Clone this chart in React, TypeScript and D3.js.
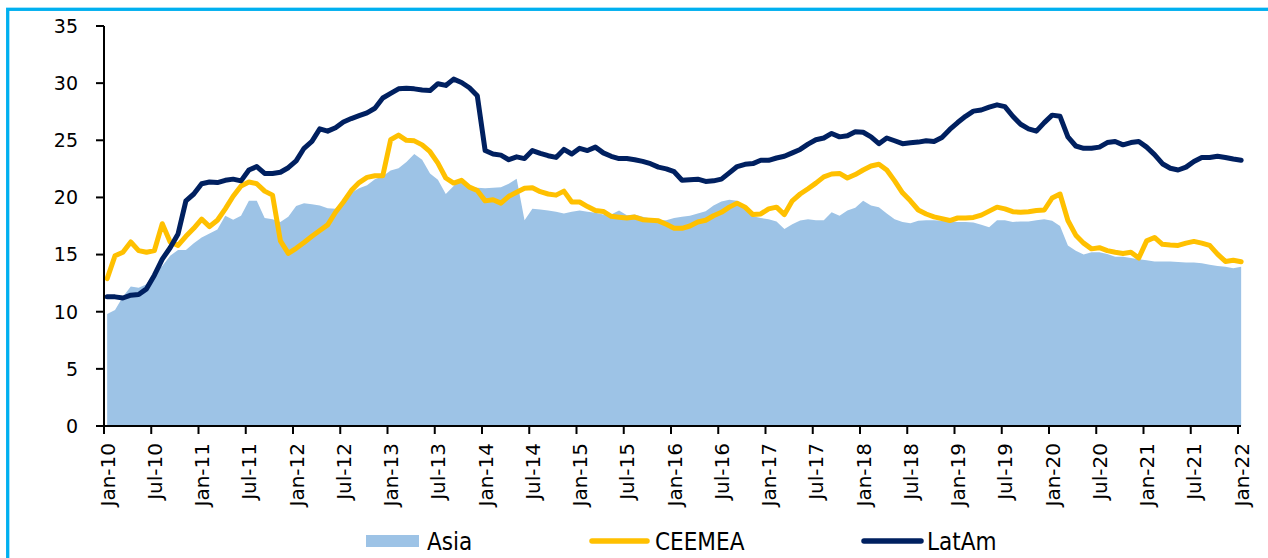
import React from 'react';
import * as d3 from 'd3';

const tickLabels = [
  'Jan-10', 'Jul-10', 'Jan-11', 'Jul-11', 'Jan-12', 'Jul-12', 'Jan-13', 'Jul-13', 'Jan-14',
  'Jul-14', 'Jan-15', 'Jul-15', 'Jan-16', 'Jul-16', 'Jan-17', 'Jul-17', 'Jan-18', 'Jul-18',
  'Jan-19', 'Jul-19', 'Jan-20', 'Jul-20', 'Jan-21', 'Jul-21', 'Jan-22',
];
const yTicks = [0, 5, 10, 15, 20, 25, 30, 35];

// monthly values, Jan-10 onwards
const asia = [
  9.8, 10.15, 11.3, 12.2, 12.1, 12.4, 13.5, 14.0, 14.9, 15.4,
  15.4, 16.0, 16.5, 16.85, 17.2, 18.4, 18.05, 18.4, 19.7, 19.7,
  18.2, 18.1, 17.85, 18.3, 19.25, 19.5, 19.4, 19.3, 19.05, 19.0,
  19.8, 20.4, 20.8, 21.06, 21.6, 21.85, 22.35, 22.55, 23.1, 23.8,
  23.3, 22.1, 21.55, 20.3, 21.0, 21.7, 21.0, 20.85, 20.8, 20.85,
  20.9, 21.2, 21.64, 18.0, 19.0, 18.95, 18.85, 18.75, 18.6, 18.75,
  18.85, 18.75, 18.65, 18.5, 18.5, 18.85, 18.45, 18.5, 18.3, 18.15,
  18.0, 18.0, 18.2, 18.3, 18.4, 18.6, 18.8, 19.3, 19.65, 19.8,
  19.7, 19.0, 18.35, 18.2, 18.1, 17.9, 17.24, 17.65, 17.98, 18.1,
  18.0, 18.0, 18.7, 18.4, 18.85, 19.1, 19.7, 19.3, 19.15, 18.6,
  18.1, 17.85, 17.75, 17.95, 18.0, 18.0, 17.95, 17.9, 17.85, 17.85,
  17.8, 17.6, 17.4, 18.0, 18.0, 17.85, 17.9, 17.9, 18.0, 18.1,
  17.95, 17.5, 15.8, 15.34, 15.0, 15.2, 15.2, 15.05, 14.8, 14.8,
  14.7, 14.6, 14.5, 14.4, 14.4, 14.4, 14.35, 14.3, 14.3, 14.25,
  14.1, 14.0, 13.93, 13.8, 13.93,
];

const ceemea = [
  12.9, 14.9, 15.2, 16.1, 15.35, 15.2, 15.35, 17.7, 16.1, 15.8,
  16.6, 17.3, 18.1, 17.45, 18.0, 19.0, 20.1, 21.0, 21.35, 21.2,
  20.55, 20.2, 16.2, 15.1, 15.55, 16.05, 16.6, 17.1, 17.6, 18.7,
  19.6, 20.6, 21.3, 21.75, 21.9, 21.9, 25.05, 25.45, 25.0, 24.95,
  24.6, 24.0, 23.0, 21.7, 21.26, 21.5, 20.9, 20.6, 19.7, 19.8,
  19.5, 20.1, 20.45, 20.8, 20.85, 20.5, 20.3, 20.2, 20.55, 19.6,
  19.6, 19.2, 18.85, 18.77, 18.35, 18.27, 18.2, 18.28, 18.05, 18.0,
  17.95, 17.65, 17.3, 17.3, 17.5, 17.85, 18.0, 18.4, 18.7, 19.15,
  19.5, 19.15, 18.5, 18.56, 19.0, 19.15, 18.5, 19.7, 20.3, 20.76,
  21.25, 21.8, 22.05, 22.1, 21.7, 22.0, 22.4, 22.75, 22.9, 22.4,
  21.45, 20.4, 19.7, 18.9, 18.55, 18.3, 18.15, 17.98, 18.2, 18.2,
  18.25, 18.45, 18.8, 19.15, 19.0, 18.75, 18.7, 18.75, 18.85, 18.9,
  19.95, 20.3, 17.98, 16.7, 16.0, 15.5, 15.6, 15.35, 15.2, 15.1,
  15.2, 14.7, 16.2, 16.5, 15.9, 15.84, 15.8, 16.0, 16.15, 16.0,
  15.8, 15.04, 14.4, 14.5, 14.37,
];

const latam = [
  11.3, 11.3, 11.2, 11.45, 11.5, 12.0, 13.2, 14.6, 15.6, 16.8,
  19.7, 20.3, 21.2, 21.35, 21.3, 21.5, 21.6, 21.45, 22.4, 22.7,
  22.1, 22.1, 22.2, 22.6, 23.2, 24.3, 24.9, 26.0, 25.8, 26.1,
  26.6, 26.9, 27.15, 27.4, 27.8, 28.7, 29.1, 29.5, 29.55, 29.5,
  29.4, 29.35, 29.95, 29.8, 30.35, 30.06, 29.6, 28.9, 24.1, 23.8,
  23.7, 23.3, 23.55, 23.4, 24.1, 23.85, 23.65, 23.5, 24.2, 23.8,
  24.3, 24.1, 24.4, 23.9, 23.6, 23.4, 23.4, 23.3, 23.15, 22.95,
  22.65, 22.5, 22.25, 21.5, 21.55, 21.6, 21.4, 21.45, 21.6, 22.15,
  22.7, 22.9, 22.96, 23.25, 23.25, 23.45, 23.6, 23.9, 24.2, 24.66,
  25.05, 25.2, 25.6, 25.3, 25.4, 25.75, 25.7, 25.3, 24.7, 25.2,
  24.96, 24.7, 24.78, 24.84, 24.96, 24.9, 25.25, 25.95, 26.55, 27.1,
  27.55, 27.65, 27.9, 28.1, 27.95, 27.1, 26.4, 26.0, 25.8, 26.55,
  27.2, 27.1, 25.3, 24.5, 24.3, 24.3, 24.4, 24.8, 24.9, 24.6,
  24.8, 24.9, 24.4, 23.75, 22.95, 22.55, 22.4, 22.65, 23.15, 23.5,
  23.5, 23.6, 23.5, 23.36, 23.25,
];

const ASIA = '#9dc3e6';
const CEEMEA = '#ffc000';
const LATAM = '#002060';
const BORDER = '#00b0f0';

const W = 1268;
const H = 558;
const left = 104;
const right = 1238;
const top = 26;
const bottom = 426;
const tickFont = '"DejaVu Sans", Verdana, sans-serif';
const legendFont = '"Liberation Sans Narrow", "DejaVu Sans Condensed", Arial, sans-serif';

export default function App() {
  // month index scale, Jan-10 = 0, Jan-22 = 144
  const x = d3.scaleLinear().domain([0, 144]).range([left, right]);
  const y = d3.scaleLinear().domain([0, 35]).range([bottom, top]);
  const px = (_: number, i: number) => x(i + 0.4);

  const area = d3.area<number>().x(px).y0(y(0)).y1((d) => y(d));
  const line = d3.line<number>().x(px).y((d) => y(d));

  return (
    <div style={{ position: 'absolute', left: 0, top: 0 }}>
      <svg width={W} height={H} style={{ display: 'block', background: '#fff' }}>
        <rect x={7.7} y={9.3} width={W + 50} height={H + 50} fill="none" stroke={BORDER} strokeWidth={3.3} />

        <path d={area(asia) ?? ''} fill={ASIA} />
        <path d={line(ceemea) ?? ''} fill="none" stroke={CEEMEA} strokeWidth={5} strokeLinejoin="round" strokeLinecap="round" />
        <path d={line(latam) ?? ''} fill="none" stroke={LATAM} strokeWidth={5} strokeLinejoin="round" strokeLinecap="round" />

        {/* y axis */}
        <line x1={left} x2={left} y1={top} y2={bottom} stroke="#000" strokeWidth={2} />
        {yTicks.map((t) => (
          <g key={t}>
            <line x1={left - 8} x2={left} y1={y(t)} y2={y(t)} stroke="#000" strokeWidth={2} />
            <text x={78} y={y(t)} dy="0.36em" textAnchor="end" fontFamily={tickFont} fontSize={19} fill="#000">
              {t}
            </text>
          </g>
        ))}

        {/* x axis */}
        <line x1={left} x2={right + 3} y1={bottom} y2={bottom} stroke="#000" strokeWidth={2} />
        {tickLabels.map((lab, i) => {
          const tx = x(i * 6);
          return (
            <g key={lab}>
              <line x1={tx} x2={tx} y1={bottom} y2={bottom + 8} stroke="#000" strokeWidth={2} />
              <text
                transform={`translate(${tx + 10.5},443) rotate(-90)`}
                textAnchor="end"
                fontFamily={tickFont}
                fontSize={20}
                fill="#000"
              >
                {lab}
              </text>
            </g>
          );
        })}

        {/* legend */}
        <rect x={366} y={535} width={53} height={12} fill={ASIA} />
        <text x={427} y={550} fontFamily={legendFont} fontSize={24} fill="#000">Asia</text>
        <line x1={592} x2={647} y1={541} y2={541} stroke={CEEMEA} strokeWidth={5.5} strokeLinecap="round" />
        <text x={655} y={550} fontFamily={legendFont} fontSize={24} fill="#000">CEEMEA</text>
        <line x1={864} x2={921} y1={541} y2={541} stroke={LATAM} strokeWidth={5.5} strokeLinecap="round" />
        <text x={927} y={550} fontFamily={legendFont} fontSize={24} fill="#000">LatAm</text>
      </svg>
    </div>
  );
}
